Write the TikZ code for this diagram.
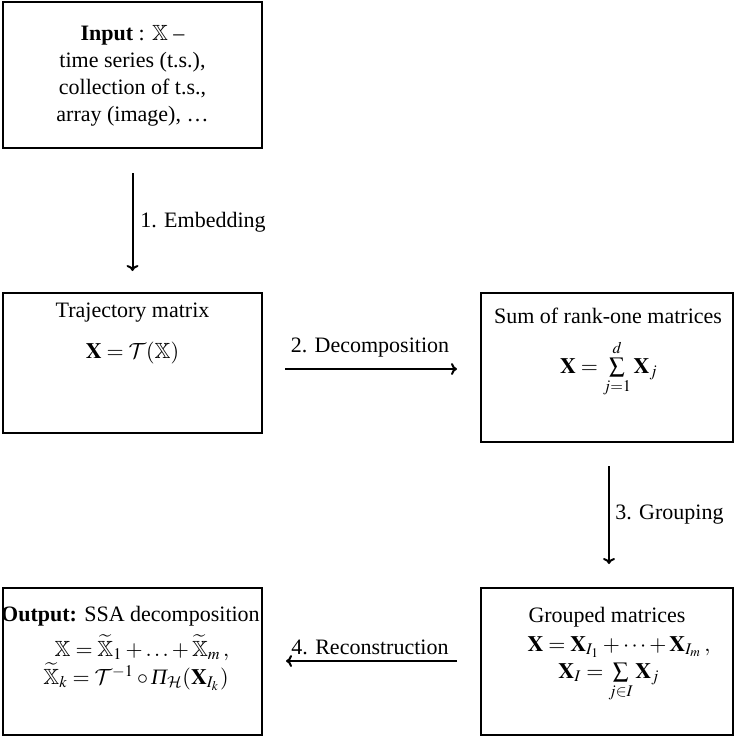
\documentclass[tikz,border=0pt]{standalone}
\usepackage{amsmath}
\usepackage{mathptmx}
\usepackage{amssymb}
\usepackage[no-math]{fontspec}
\setmainfont{Liberation Serif}
\DeclareMathAlphabet{\mathcal}{OMS}{cmsy}{m}{n}
\usetikzlibrary{arrows.meta}
\tikzset{
  box/.style={draw, line width=1pt, inner sep=0pt},
  txt/.style={inner sep=0pt, align=center},
  conn/.style={line width=1pt, -{To[length=3pt,width=6pt]}},
}
\begin{document}
\begin{tikzpicture}[x=0.5pt,y=-0.5pt,font=\fontsize{11}{13.5}\selectfont]
\useasboundingbox (0,0) rectangle (734,740);
% boxes
\node[box, minimum width=129.5pt, minimum height=73pt] (input) at (132.5,75) {};
\node[box, minimum width=129.5pt, minimum height=70pt] (traj) at (132.5,363) {};
\node[box, minimum width=126pt, minimum height=74.5pt] (sum) at (607,367.5) {};
\node[box, minimum width=126pt, minimum height=73.5pt] (grouped) at (607,661.5) {};
\node[box, minimum width=129.5pt, minimum height=73.5pt] (output) at (132.5,661.5) {};
% texts
\node[txt] (inputtxt) at (132.5,76) {\textbf{Input} : $\mathbb{X}$ --\\ time series (t.s.),\\ collection of t.s.,\\ array (image), \dots};
\node[txt] (trajA) at (132.5,313) {Trajectory matrix};
\node[txt, anchor=base] (trajB) at (132.5,358) {$\mathbf{X}=\mathcal{T}(\mathbb{X})$};
\node[txt] (sumA) at (608,316) {Sum of rank-one matrices};
\node[txt, anchor=base] (sumB) at (609,373) {$\mathbf{X}=\sum\limits_{j=1}^{d}\mathbf{X}_j$};
\node[txt, anchor=base] (grA) at (607,622) {Grouped matrices};
\node[txt, anchor=base] (grB) at (619,651) {$\mathbf{X}=\mathbf{X}_{I_1}+\cdots+\mathbf{X}_{I_m}\,,$};
\node[txt, anchor=base] (grC) at (609,678) {$\mathbf{X}_I=\sum\limits_{j\in I}\mathbf{X}_j$};
\node[txt, anchor=base] (outA) at (130.5,621) {\textbf{Output:} SSA decomposition};
\node[txt, anchor=base] (outB) at (142,656) {$\mathbb{X}=\widetilde{\mathbb{X}}_1+\ldots+\widetilde{\mathbb{X}}_m\,,$};
\node[txt, anchor=base] (outC) at (136,684) {$\widetilde{\mathbb{X}}_k=\mathcal{T}^{-1}\circ\text{\itshape Π}_{\mathcal{H}}(\mathbf{X}_{I_k})$};
% connectors
\coordinate (decY) at (0,369);
\coordinate (recY) at (0,661);
\draw[conn, shorten <=12pt, shorten >=10.5pt] (input.south) -- (traj.north);
\node[txt, anchor=west] (l1) at (140,222) {1. Embedding};
\draw[conn, shorten <=11pt, shorten >=11.5pt] (traj.east |- decY) -- (sum.west |- decY);
\node[txt] (l2) at (370,348) {2. Decomposition};
\draw[conn, shorten <=11.5pt, shorten >=11.5pt] ([xshift=1pt]sum.south) -- ([xshift=1pt]grouped.north);
\node[txt, anchor=west] (l3) at (615,515) {3. Grouping};
\draw[conn, shorten <=11.5pt, shorten >=11.5pt] (grouped.west |- recY) -- (output.east |- recY);
\node[txt] (l4) at (370,647) {4. Reconstruction};
\end{tikzpicture}
\end{document}
